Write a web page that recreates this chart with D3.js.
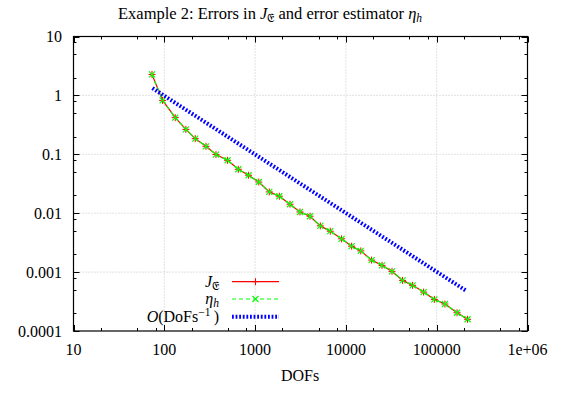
<!DOCTYPE html>
<html lang="en">
  <head>
    <meta charset="utf-8">
    <title>Example 2: Errors and error estimator</title>
    <style>
      body {
        margin: 0;
        background: #fff;
      }
    </style>
  </head>
  <body>
    <div class="graph"></div>

    <script src="https://d3js.org/d3.v7.min.js"></script>
    <script>
      // values
      var dofs = [73.2, 95.8, 132, 173, 219, 288, 371, 498, 653, 848,
                  1098, 1433, 1848, 2423, 3121, 4027, 5225, 6730, 8970, 11560,
                  14590, 19190, 24990, 32190, 42100, 54300, 71800, 94200, 123300, 167500,
                  218800];
      var errJ = [2.27, 0.823, 0.419, 0.265, 0.1845, 0.1367, 0.0989, 0.0791, 0.0557, 0.0441,
                  0.0338, 0.0230, 0.0194, 0.0142, 0.0105, 0.00889, 0.00609, 0.00495, 0.00367, 0.00276,
                  0.00229, 0.00160, 0.00130, 0.00103, 0.000723, 0.000596, 0.000458, 0.000344, 0.000287, 0.000204,
                  0.000158];
      var etaH = [2.27, 0.823, 0.419, 0.265, 0.1845, 0.1367, 0.0989, 0.0791, 0.0557, 0.0441,
                  0.0338, 0.0230, 0.0194, 0.0142, 0.0105, 0.00889, 0.00609, 0.00495, 0.00367, 0.00276,
                  0.00229, 0.00160, 0.00130, 0.00103, 0.000723, 0.000596, 0.000458, 0.000344, 0.000287, 0.000204,
                  0.000158];
      // reference slope line O(DoFs^-1), end points
      var rateDofs = [74, 212000];
      var rateVals = [1.33, 0.00048];

      var xTicks = [10, 100, 1000, 10000, 100000, 1000000];
      var xTickLabels = ['10', '100', '1000', '10000', '100000', '1e+06'];
      var yTicks = [0.0001, 0.001, 0.01, 0.1, 1, 10];
      var yTickLabels = ['0.0001', '0.001', '0.01', '0.1', '1', '10'];
      var minorSteps = [2, 5, 8];

      var width = 568, height = 394;
      var plotL = 73.5, plotR = 527.5, plotT = 36.5, plotB = 331;

      var svg = d3.select('.graph')
                  .append('svg')
                  .attr('width', width)
                  .attr('height', height)
                  .attr('font-family', "'Liberation Serif', 'Times New Roman', 'DejaVu Serif', serif");

      var x = d3.scaleLog().domain([10, 1e6]).range([plotL, plotR]);
      var y = d3.scaleLog().domain([1e-4, 10]).range([plotB, plotT]);

      // grid
      var grid = svg.append('g')
                    .attr('stroke', '#b8b8b8')
                    .attr('stroke-width', 0.8)
                    .attr('stroke-dasharray', '1,2');
      grid.selectAll('.gx')
          .data(xTicks.slice(1, -1))
          .enter().append('line')
          .attr('x1', function(d) { return x(d); })
          .attr('x2', function(d) { return x(d); })
          .attr('y1', plotT).attr('y2', plotB);
      grid.selectAll('.gy')
          .data(yTicks.slice(1, -1))
          .enter().append('line')
          .attr('y1', function(d) { return y(d); })
          .attr('y2', function(d) { return y(d); })
          .attr('x1', plotL).attr('x2', plotR);

      // minor ticks
      var xMinor = [], yMinor = [];
      xTicks.slice(0, -1).forEach(function(t) {
        minorSteps.forEach(function(m) { xMinor.push(t * m); });
      });
      yTicks.slice(0, -1).forEach(function(t) {
        minorSteps.forEach(function(m) { yMinor.push(t * m); });
      });

      var ticks = svg.append('g').attr('stroke', '#000').attr('stroke-width', 1);
      function xTick(list, len) {
        list.forEach(function(d) {
          var px = Math.round(x(d)) + 0.5;
          ticks.append('line').attr('x1', px).attr('x2', px).attr('y1', plotB).attr('y2', plotB - len);
          ticks.append('line').attr('x1', px).attr('x2', px).attr('y1', plotT).attr('y2', plotT + len);
        });
      }
      function yTick(list, len) {
        list.forEach(function(d) {
          var py = Math.round(y(d)) + 0.5;
          ticks.append('line').attr('y1', py).attr('y2', py).attr('x1', plotL).attr('x2', plotL + len);
          ticks.append('line').attr('y1', py).attr('y2', py).attr('x1', plotR).attr('x2', plotR - len);
        });
      }
      xTick(xTicks, 6);
      xTick(xMinor, 3);
      yTick(yTicks, 6);
      yTick(yMinor, 3);

      // tick labels
      svg.selectAll('.xl')
         .data(xTicks)
         .enter().append('text')
         .attr('x', function(d) { return x(d); })
         .attr('y', 355)
         .attr('text-anchor', 'middle')
         .attr('font-size', 16)
         .text(function(d, i) { return xTickLabels[i]; });
      svg.selectAll('.yl')
         .data(yTicks)
         .enter().append('text')
         .attr('x', 62)
         .attr('y', function(d) { return y(d) + 5.5; })
         .attr('text-anchor', 'end')
         .attr('font-size', 16)
         .text(function(d, i) { return yTickLabels[i]; });

      svg.append('text')
         .attr('x', 300).attr('y', 381)
         .attr('text-anchor', 'middle')
         .attr('font-size', 16)
         .text('DOFs');

      // title
      var title = svg.append('text')
                     .attr('x', 118).attr('y', 19)
                     .attr('font-size', 16.5);
      title.append('tspan').text('Example 2: Errors in ');
      title.append('tspan').attr('font-style', 'italic').text('J');
      title.append('tspan').attr('font-size', 11.5).attr('dy', 3).text('\u{1D508}');
      title.append('tspan').attr('dy', -3).text(' and error estimator ');
      title.append('tspan').attr('font-style', 'italic').text('\u03B7');
      title.append('tspan').attr('font-style', 'italic').attr('font-size', 11.5).attr('dy', 3).text('h');

      // series
      var line = d3.line()
                   .x(function(d) { return x(d[0]); })
                   .y(function(d) { return y(d[1]); });

      var jData = dofs.map(function(d, i) { return [d, errJ[i]]; });
      var etaData = dofs.map(function(d, i) { return [d, etaH[i]]; });
      var rateData = rateDofs.map(function(d, i) { return [d, rateVals[i]]; });

      function plus(g, cx, cy, r, color) {
        g.append('path')
         .attr('d', 'M' + (cx - r) + ',' + cy + 'H' + (cx + r) + 'M' + cx + ',' + (cy - r) + 'V' + (cy + r))
         .attr('stroke', color).attr('stroke-width', 1).attr('fill', 'none');
      }
      function cross(g, cx, cy, r, color) {
        g.append('path')
         .attr('d', 'M' + (cx - r) + ',' + (cy - r) + 'L' + (cx + r) + ',' + (cy + r) +
                    'M' + (cx - r) + ',' + (cy + r) + 'L' + (cx + r) + ',' + (cy - r))
         .attr('stroke', color).attr('stroke-width', 1.2).attr('fill', 'none');
      }

      var plot = svg.append('g');
      plot.append('path')
          .datum(jData)
          .attr('d', line)
          .attr('fill', 'none')
          .attr('stroke', '#ff0000')
          .attr('stroke-width', 1.2);
      jData.forEach(function(d) { plus(plot, x(d[0]), y(d[1]), 3.5, '#ff0000'); });

      plot.append('path')
          .datum(etaData)
          .attr('d', line)
          .attr('fill', 'none')
          .attr('stroke', '#00ff00')
          .attr('stroke-width', 1.2)
          .attr('stroke-dasharray', '4,3');
      etaData.forEach(function(d) { cross(plot, x(d[0]), y(d[1]), 3, '#00ff00'); });

      plot.append('path')
          .datum(rateData)
          .attr('d', line)
          .attr('fill', 'none')
          .attr('stroke', '#0000ff')
          .attr('stroke-width', 4)
          .attr('stroke-dasharray', '1.8,1.8');

      // legend
      var legend = svg.append('g');
      var rows = [281.7, 299, 316.7];
      var lx1 = 232, lx2 = 279, lm = 255.5;

      var t1 = legend.append('text').attr('x', 219).attr('y', rows[0] + 5).attr('text-anchor', 'end').attr('font-size', 16);
      t1.append('tspan').attr('font-style', 'italic').text('J');
      t1.append('tspan').attr('font-size', 11.5).attr('dy', 3).text('\u{1D508}');
      legend.append('line').attr('x1', lx1).attr('x2', lx2).attr('y1', rows[0]).attr('y2', rows[0])
            .attr('stroke', '#ff0000').attr('stroke-width', 1.2);
      plus(legend, lm, rows[0], 3.5, '#ff0000');

      var t2 = legend.append('text').attr('x', 219).attr('y', rows[1] + 5).attr('text-anchor', 'end').attr('font-size', 16);
      t2.append('tspan').attr('font-style', 'italic').text('\u03B7');
      t2.append('tspan').attr('font-style', 'italic').attr('font-size', 11.5).attr('dy', 3).text('h');
      legend.append('line').attr('x1', lx1).attr('x2', lx2).attr('y1', rows[1]).attr('y2', rows[1])
            .attr('stroke', '#00ff00').attr('stroke-width', 1.2).attr('stroke-dasharray', '4,3');
      cross(legend, lm, rows[1], 3, '#00ff00');

      var t3 = legend.append('text').attr('x', 219).attr('y', rows[2] + 5).attr('text-anchor', 'end').attr('font-size', 16);
      t3.append('tspan').attr('font-style', 'italic').text('O');
      t3.append('tspan').text('(DoFs');
      t3.append('tspan').attr('font-size', 11.5).attr('dy', -6).text('\u22121');
      t3.append('tspan').attr('dy', 6).text('\u2009)');
      legend.append('line').attr('x1', lx1).attr('x2', lx2).attr('y1', rows[2]).attr('y2', rows[2])
            .attr('stroke', '#0000ff').attr('stroke-width', 4).attr('stroke-dasharray', '1.8,1.8');

      // frame
      svg.append('rect')
         .attr('x', plotL).attr('y', plotT)
         .attr('width', plotR - plotL).attr('height', plotB - plotT)
         .attr('fill', 'none')
         .attr('stroke', '#000')
         .attr('stroke-width', 1.2);
    </script>
  </body>
</html>
